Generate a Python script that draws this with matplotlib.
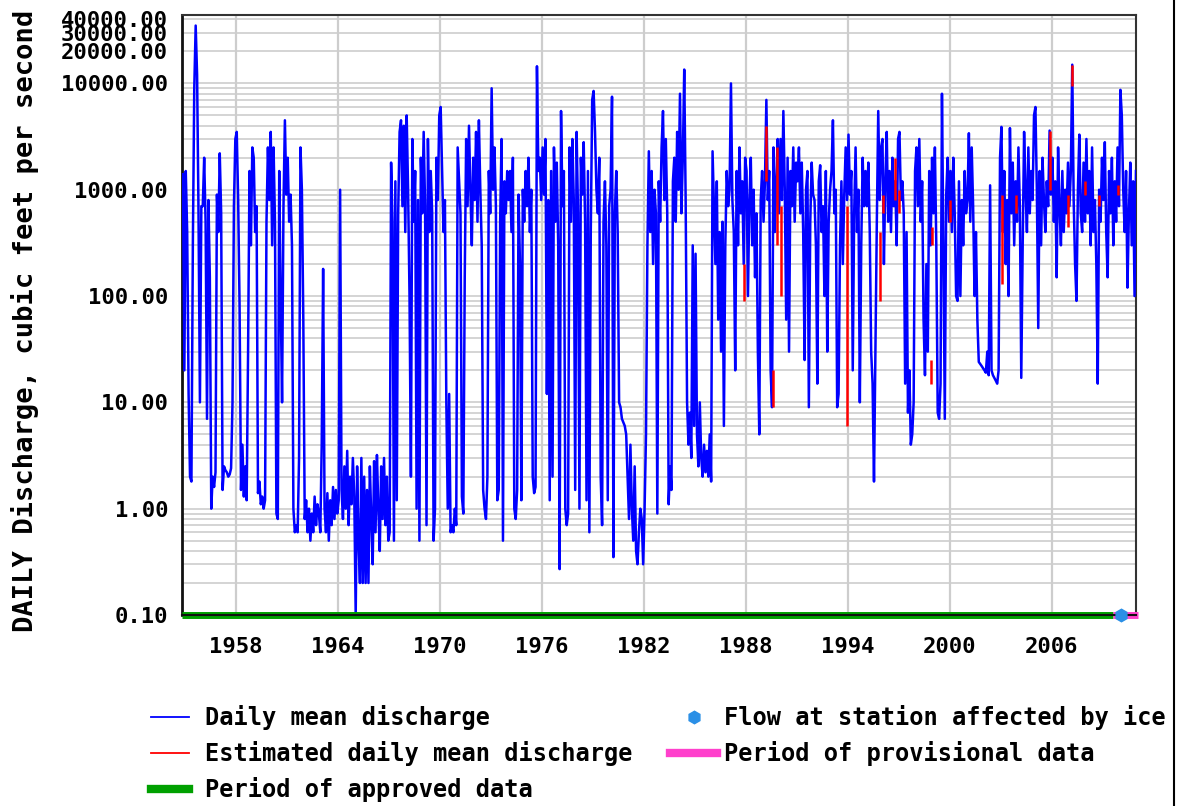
import numpy as np
import matplotlib
matplotlib.use('Agg')
import matplotlib.pyplot as plt
from matplotlib.lines import Line2D
from matplotlib.ticker import FixedLocator, FixedFormatter, LogLocator, NullFormatter

q_1954 = [[1400, 20]]  # Nov, Dec
q_1955_59 = [
    [1500, 400, 12, 2, 1.8, 300, 9000, 35000, 12000, 600, 10, 700],
    [700, 2000, 500, 7, 800, 150, 1.0, 2.0, 1.6, 2.2, 900, 400],
    [2200, 600, 1.5, 2.5, 2.3, 2.2, 2.0, 2.1, 2.4, 10, 700, 3000],
    [3500, 800, 80, 1.5, 4, 1.3, 2.5, 1.2, 30, 1500, 300, 2500],
    [2000, 400, 700, 1.4, 1.8, 1.1, 1.3, 1.0, 1.2, 500, 2500, 800],
]
q_1960s = [
    [3500, 300, 2500, 500, 0.9, 0.8, 1500, 100, 10, 700, 4500, 900],
    [2000, 500, 900, 300, 1.0, 0.6, 0.7, 0.6, 3, 2500, 1000, 60],
    [0.8, 1.2, 0.6, 1.0, 0.5, 0.9, 0.6, 1.3, 0.7, 1.1, 0.9, 0.6],
    [4, 180, 1.0, 0.6, 1.4, 0.5, 1.2, 0.7, 1.6, 0.8, 1.5, 0.9],
    [1.2, 1000, 1.5, 0.8, 2.5, 1.0, 3.5, 0.7, 2.0, 1.1, 3.0, 1.3],
    [0.1, 2.5, 0.5, 0.2, 3.0, 0.2, 2.0, 0.2, 1.5, 0.2, 2.5, 0.8],
    [0.3, 2.8, 0.6, 3.2, 1.0, 0.4, 2.5, 0.8, 3.0, 0.7, 2.0, 0.5],
    [0.6, 1800, 500, 0.5, 1200, 1.2, 600, 3500, 4500, 700, 4000, 400],
    [5000, 1000, 100, 2.0, 3000, 500, 1500, 1.0, 800, 0.5, 2000, 600],
    [3500, 700, 0.7, 3000, 400, 1500, 600, 0.5, 1.0, 2000, 800, 5000],
]
q_1970s = [
    [6000, 1500, 400, 800, 10, 1.0, 12, 0.6, 0.7, 0.6, 1.0, 0.7],
    [2500, 1200, 600, 1.3, 0.9, 150, 3000, 700, 4000, 1000, 300, 2000],
    [800, 3500, 500, 4500, 1000, 300, 1.5, 1.0, 0.8, 2.0, 1500, 600],
    [9000, 1000, 2500, 700, 1.2, 1.5, 500, 3000, 0.5, 1200, 600, 1500],
    [800, 1500, 400, 2000, 1.0, 0.8, 1.5, 900, 200, 1.2, 1000, 500],
    [1500, 700, 2000, 400, 1000, 2.0, 1.4, 1.6, 14500, 1500, 2000, 800],
    [2500, 900, 3000, 12, 800, 1.2, 1500, 2.0, 2500, 500, 1800, 300],
    [0.27, 5500, 700, 1500, 1.0, 0.7, 0.9, 2500, 500, 3000, 800, 1.5],
    [3500, 600, 1.0, 2000, 900, 2800, 500, 1.2, 1500, 0.6, 400, 7000],
    [8500, 3500, 1000, 600, 2000, 2.0, 0.7, 500, 1200, 300, 1.2, 700],
]
q_1980s = [
    [1000, 7500, 0.35, 600, 1500, 400, 10, 9, 7, 6.5, 6, 5],
    [2.0, 0.8, 4.0, 1.0, 0.5, 2.5, 0.4, 0.3, 0.6, 1.0, 0.8, 0.3],
    [1.0, 5, 300, 2300, 400, 1500, 200, 1000, 600, 0.9, 1200, 500],
    [2500, 5500, 800, 3000, 600, 1.1, 2.5, 1.5, 1200, 2000, 500, 3500],
    [1000, 8000, 600, 2000, 13500, 800, 10, 4, 8, 3, 300, 6],
    [250, 5, 2.5, 10, 3.0, 2.0, 4, 2.2, 3.5, 2.0, 5, 1.8],
    [2300, 700, 200, 1200, 60, 400, 30, 500, 6, 300, 1500, 700],
    [1000, 10000, 800, 400, 20, 1500, 300, 2500, 600, 1200, 200, 2000],
    [1500, 100, 800, 2000, 300, 1000, 150, 600, 30, 5, 800, 1500],
    [500, 1200, 7000, 800, 1500, 20, 9, 2500, 400, 1200, 3000, 600],
]
q_1990s = [
    [3000, 800, 5500, 1000, 60, 2000, 30, 1500, 700, 2500, 500, 1800],
    [1200, 2500, 600, 1800, 400, 25, 1000, 1500, 9, 500, 1800, 900],
    [800, 300, 15, 1200, 1700, 400, 700, 100, 1500, 30, 500, 1000],
    [1500, 4500, 600, 1000, 9, 12, 300, 1200, 200, 900, 2500, 800],
    [3300, 900, 1500, 20, 600, 2500, 400, 1000, 10, 300, 2000, 700],
    [1500, 700, 1800, 400, 30, 15, 1.8, 30, 500, 5500, 800, 2500],
    [3000, 200, 1200, 3500, 500, 1500, 400, 2000, 700, 1200, 300, 3000],
    [3500, 800, 1200, 600, 15, 400, 8, 20, 4, 5, 10, 1500],
    [2500, 700, 3000, 500, 1200, 60, 18, 200, 30, 1500, 300, 2000],
    [600, 2500, 300, 8, 7, 15, 8000, 300, 7, 900, 2000, 500],
]
q_2000s = [
    [1500, 400, 2000, 600, 100, 90, 1200, 100, 800, 300, 1500, 600],
    [800, 3400, 500, 2500, 700, 100, 400, 60, 24, 23, 22, 21],
    [20, 19, 30, 18, 1100, 20, 18, 17, 16, 15, 20, 2000],
    [3900, 400, 1500, 200, 800, 100, 3800, 600, 1800, 300, 1200, 500],
    [2500, 700, 17, 300, 3500, 1000, 400, 2500, 600, 1500, 800, 5000],
    [6000, 1000, 50, 1500, 300, 2000, 800, 400, 1200, 700, 3600, 900],
    [2000, 500, 1200, 150, 2500, 700, 300, 1500, 400, 1000, 600, 1800],
    [700, 1500, 15000, 800, 200, 90, 1000, 3300, 600, 400, 1800, 500],
    [3000, 600, 1500, 300, 2500, 400, 800, 200, 15, 1000, 500, 2000],
    [800, 2800, 400, 150, 1500, 600, 2000, 300, 1200, 500, 2500, 700],
]
q_2010 = [[8700, 5000, 1000, 400, 1500, 120, 600, 1800, 300, 1200, 100, 1500]]

# estimated-value stretches (red): decimal year, low, high
est_year = [1987.92, 1989.21, 1989.6, 1989.85, 1990.05, 1993.96, 1995.92, 1996.05,
            1996.8, 1997.0, 1998.9, 1998.95, 2000.0, 2003.1, 2003.9, 2005.875,
            2006.95, 2007.21, 2007.95, 2008.8, 2009.9]
est_low = [90, 1200, 9, 300, 100, 6, 90, 600, 800, 600, 15, 300, 500, 130, 600,
           1000, 450, 9500, 900, 700, 900]
est_high = [200, 4000, 20, 2500, 700, 700, 400, 900, 2000, 1000, 25, 450, 800, 900,
            900, 3600, 900, 15000, 1200, 900, 1100]

approved_period = [1954.83, 2009.6]
provisional_period = [2009.6, 2011.1]
ice_year = [2010.1]

year_ticks = [1958, 1964, 1970, 1976, 1982, 1988, 1994, 2000, 2006]
q_ticks = [0.1, 1, 10, 100, 1000, 10000, 20000, 30000, 40000]

q = np.concatenate([np.ravel(block) for block in
                    [q_1954, q_1955_59, q_1960s, q_1970s, q_1980s, q_1990s, q_2000s, q_2010]])
t = 1954 + (np.arange(len(q)) + 10.5) / 12  # mid-month, starting Nov 1954

mono = 'DejaVu Sans Mono'

fig = plt.figure(figsize=(11.79, 8.06), dpi=100)
ax = fig.add_axes([182 / 1179, 191 / 806, 954 / 1179, 600 / 806])

ax.plot(t, q, color='#0000ff', lw=1.8, zorder=3)
ax.vlines(est_year, est_low, est_high, color='#ff0000', lw=1.8, zorder=4)

# period bars along the bottom
ax.plot(approved_period, [0.1, 0.1], color='#00a000', lw=5, solid_capstyle='butt',
        clip_on=False, zorder=4)
ax.plot(provisional_period, [0.1, 0.1], color='#ff40cc', lw=5, solid_capstyle='butt',
        clip_on=False, zorder=4)
ax.plot(ice_year, [0.1], ls='none', marker='h', ms=9, color='#2a8fe6',
        clip_on=False, zorder=6)

ax.set_yscale('log')
ax.set_ylim(0.1, 44000)
ax.set_xlim(1954.82, 2010.96)

ax.yaxis.set_major_locator(FixedLocator(q_ticks))
ax.yaxis.set_major_formatter(FixedFormatter(['%.2f' % v for v in q_ticks]))
ax.yaxis.set_minor_locator(LogLocator(base=10, subs=range(2, 10), numticks=20))
ax.yaxis.set_minor_formatter(NullFormatter())
ax.xaxis.set_major_locator(FixedLocator(year_ticks))
ax.set_xticklabels([str(y) for y in year_ticks])

ax.grid(axis='y', which='both', color='#cdcdcd', lw=1.2)
ax.grid(axis='x', which='major', color='#cdcdcd', lw=1.6)
ax.set_axisbelow(True)

ax.tick_params(axis='both', which='both', length=0)
ax.tick_params(axis='y', pad=10)
ax.tick_params(axis='x', pad=16)
for lab in ax.get_xticklabels() + ax.get_yticklabels():
    lab.set_fontfamily(mono)
    lab.set_fontweight('bold')
    lab.set_fontsize(16)

ax.spines['left'].set_linewidth(2)
ax.spines['left'].set_color('#111111')
ax.spines['bottom'].set_color('#111111')
ax.spines['bottom'].set_linewidth(1.5)
ax.spines['bottom'].set_zorder(5)
for side in ['top', 'right']:
    ax.spines[side].set_color('#333333')
    ax.spines[side].set_linewidth(1.5)

fig.text(25 / 1179, 1 - 321 / 806, 'DAILY Discharge, cubic feet per second',
         rotation=90, ha='center', va='center', family=mono, weight='bold', fontsize=19.5)

# legend in two columns below the plot
font = {'family': mono, 'weight': 'bold', 'size': 17}
col1 = [Line2D([], [], color='#0000ff', lw=1.3),
        Line2D([], [], color='#ff0000', lw=1.3),
        Line2D([], [], color='#00a000', lw=6)]
col1_labels = ['Daily mean discharge', 'Estimated daily mean discharge',
               'Period of approved data']
col2 = [Line2D([], [], ls='none', marker='h', ms=9, color='#2a8fe6'),
        Line2D([], [], color='#ff40cc', lw=6)]
col2_labels = ['Flow at station affected by ice', 'Period of provisional data']

fig.legend(col1, col1_labels, loc='upper left', bbox_to_anchor=(151 / 1179, 1 - 705 / 806),
           frameon=False, prop=font, handlelength=1.6, handletextpad=0.7,
           labelspacing=0.47, borderpad=0, borderaxespad=0)
fig.legend(col2, col2_labels, loc='upper left', bbox_to_anchor=(670 / 1179, 1 - 705 / 806),
           frameon=False, prop=font, handlelength=2.0, handletextpad=0.3,
           labelspacing=0.47, borderpad=0, borderaxespad=0)

# frame edge at the right of the picture
fig.add_artist(Line2D([1174 / 1179, 1174 / 1179], [0, 1], color='black', lw=1.5,
                      transform=fig.transFigure))

fig.savefig('out.png', dpi=100)
